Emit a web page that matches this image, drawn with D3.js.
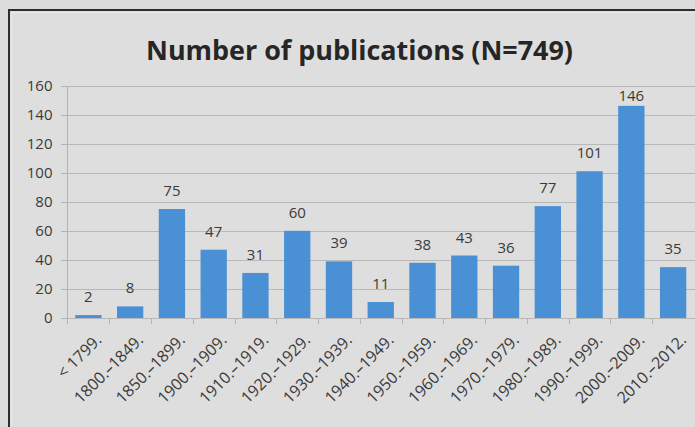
<!DOCTYPE html>
<html>
<head>
<meta charset="utf-8">
<script src="https://cdn.jsdelivr.net/npm/d3@7"></script>
<style>
  html, body { margin: 0; padding: 0; background: #dcdcdc; }
  svg { display: block; }
  .axis text { font-family: "Open Sans", sans-serif; font-size: 15px; fill: #3a3a3a; }
  .axis-x text { font-size: 16px; }
  .axis path, .axis line { stroke: #b4b4b4; shape-rendering: crispEdges; }
  .grid line { stroke: #b8b8b8; shape-rendering: crispEdges; }
  .value-label { font-family: "Open Sans", sans-serif; font-size: 15px; fill: #3a3a3a; text-anchor: middle; }
  .title { font-family: "Open Sans", sans-serif; font-weight: bold; font-size: 26px; fill: #262626; text-anchor: middle; }
</style>
</head>
<body>
<svg id="chart"></svg>
<script>
'use strict';

// datos
var periods = ['< 1799.', '1800.–1849.', '1850.–1899.', '1900.–1909.', '1910.–1919.',
    '1920.–1929.', '1930.–1939.', '1940.–1949.', '1950.–1959.', '1960.–1969.',
    '1970.–1979.', '1980.–1989.', '1990.–1999.', '2000.–2009.', '2010.–2012.'];
var counts = [2, 8, 75, 47, 31, 60, 39, 11, 38, 43, 36, 77, 101, 146, 35];
var yTicks = [0, 20, 40, 60, 80, 100, 120, 140, 160];
var titleText = 'Number of publications (N=749)';

function barChart() {
    var W = 695, H = 427;
    var plot = { left: 67.5, right: 694, top: 85.5, bottom: 318 };
    var svg = d3.select('#chart').attr('width', W).attr('height', H);
    var scales = {};

    function setupScales() {
        scales.x = d3.scaleBand().domain(periods)
            .range([plot.left, plot.right])
            .paddingInner(0.37).paddingOuter(0.185);
        scales.y = d3.scaleLinear().domain([0, d3.max(yTicks)])
            .range([plot.bottom, plot.top]);
    }

    function drawFrame() {
        svg.append('rect').attr('width', W).attr('height', H).attr('fill', '#dcdcdc');
        svg.append('rect').attr('x', 9).attr('y', 10).attr('width', W).attr('height', H)
            .attr('fill', '#dedede').attr('stroke', '#2e2e2e').attr('stroke-width', 2);
        svg.append('rect').attr('x', 11.5).attr('y', 12.5).attr('width', W).attr('height', H)
            .attr('fill', 'none').attr('stroke', '#e9e9e9').attr('stroke-width', 1);
    }

    function drawTitle() {
        svg.append('text').attr('class', 'title')
            .attr('x', 359.5).attr('y', 60)
            .attr('textLength', 427).attr('lengthAdjust', 'spacingAndGlyphs')
            .text(titleText);
    }

    //Dibujando ejes y rejilla
    function drawAxes() {
        svg.append('g').attr('class', 'grid')
            .selectAll('line').data(yTicks).enter().append('line')
            .attr('x1', plot.left).attr('x2', W)
            .attr('y1', function (d) { return Math.round(scales.y(d)) + 0.5; })
            .attr('y2', function (d) { return Math.round(scales.y(d)) + 0.5; });

        var axisY = d3.axisLeft(scales.y).tickValues(yTicks).tickSize(7).tickPadding(8);
        var gy = svg.append('g').attr('class', 'axis axis-y')
            .attr('transform', 'translate(' + plot.left + ',0)').call(axisY);
        gy.select('.domain').remove();
        gy.append('line').attr('x1', 0).attr('x2', 0)
            .attr('y1', plot.top).attr('y2', plot.bottom + 6);

        var axisX = d3.axisBottom(scales.x).tickSize(0).tickPadding(0);
        var gx = svg.append('g').attr('class', 'axis axis-x')
            .attr('transform', 'translate(0,' + plot.bottom + ')').call(axisX);
        gx.select('.domain').remove();

        // marcas entre categorias
        var step = scales.x.step();
        var bounds = periods.map(function (d) { return scales.x(d) - (step - scales.x.bandwidth()) / 2; });
        gx.selectAll('.cat-tick').data(bounds.slice(1)).enter().append('line')
            .attr('class', 'cat-tick')
            .attr('x1', function (d) { return Math.round(d) + 0.5; })
            .attr('x2', function (d) { return Math.round(d) + 0.5; })
            .attr('y1', 0).attr('y2', 6);

        gx.selectAll('.tick text')
            .attr('text-anchor', 'end')
            .attr('dy', 0)
            .attr('transform', 'translate(14,23) rotate(-45)');
    }

    function drawBars() {
        svg.append('g').attr('class', 'bars')
            .selectAll('rect').data(counts).enter().append('rect')
            .attr('x', function (d, i) { return scales.x(periods[i]); })
            .attr('y', function (d) { return scales.y(d); })
            .attr('width', scales.x.bandwidth())
            .attr('height', function (d) { return plot.bottom - scales.y(d); })
            .attr('fill', '#4a90d4');

        svg.append('g').attr('class', 'labels')
            .selectAll('text').data(counts).enter().append('text')
            .attr('class', 'value-label')
            .attr('x', function (d, i) { return scales.x(periods[i]) + scales.x.bandwidth() / 2; })
            .attr('y', function (d) { return Math.max(scales.y(d) - 13, plot.top + 15); })
            .text(function (d) { return d; });
    }

    setupScales();
    drawFrame();
    drawTitle();
    drawAxes();
    drawBars();
}

barChart();
</script>
</body>
</html>
